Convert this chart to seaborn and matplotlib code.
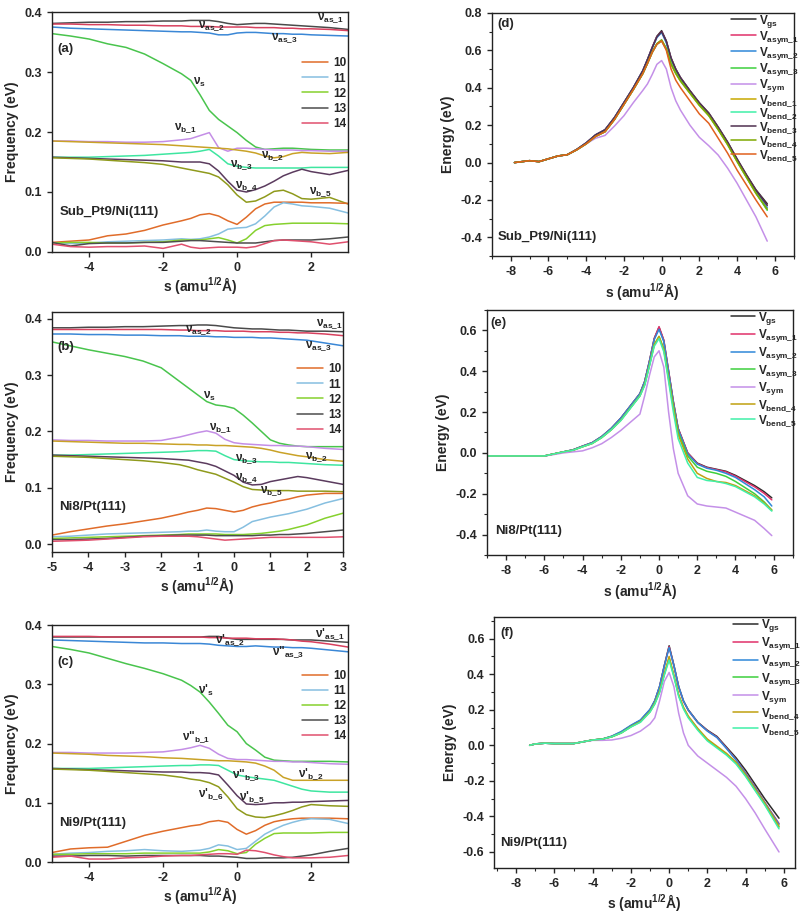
import numpy as np
import matplotlib
matplotlib.use("Agg")
import matplotlib.pyplot as plt
from matplotlib.ticker import MultipleLocator, AutoMinorLocator
import seaborn as sns

# ---- frequency panels (a)-(c): shared reaction coordinate grid ----
S_FREQ = [-5, -4.5, -4, -3.5, -3, -2.5, -2, -1.5, -1.25, -1, -0.75, -0.5, -0.25,
          0, 0.25, 0.5, 0.75, 1, 1.25, 1.5, 1.75, 2, 2.5, 3]

# (a) Sub_Pt9/Ni(111)
a_as1 = [0.381,0.382,0.383,0.383,0.384,0.384,0.385,0.385,0.386,0.386,0.386,0.384,0.381,0.379,0.380,0.381,0.381,0.380,0.379,0.378,0.377,0.376,0.374,0.371]
a_as2 = [0.380,0.380,0.379,0.379,0.378,0.378,0.377,0.377,0.376,0.376,0.376,0.375,0.375,0.375,0.375,0.374,0.374,0.374,0.373,0.373,0.372,0.372,0.371,0.369]
a_as3 = [0.375,0.373,0.372,0.371,0.370,0.369,0.368,0.367,0.367,0.366,0.365,0.362,0.362,0.365,0.366,0.366,0.365,0.364,0.364,0.363,0.363,0.362,0.361,0.360]
a_s   = [0.364,0.360,0.355,0.347,0.341,0.330,0.314,0.297,0.286,0.262,0.236,0.221,0.210,0.199,0.186,0.175,0.171,0.172,0.173,0.173,0.172,0.171,0.170,0.170]
a_b1  = [0.185,0.185,0.184,0.184,0.183,0.183,0.184,0.187,0.189,0.194,0.199,0.174,0.168,0.173,0.173,0.172,0.171,0.170,0.170,0.170,0.169,0.169,0.168,0.168]
a_b2  = [0.185,0.184,0.183,0.182,0.181,0.180,0.179,0.177,0.176,0.175,0.174,0.173,0.172,0.170,0.168,0.165,0.160,0.157,0.159,0.164,0.166,0.165,0.164,0.166]
a_b3  = [0.158,0.158,0.158,0.159,0.160,0.161,0.163,0.165,0.166,0.168,0.171,0.160,0.147,0.143,0.141,0.140,0.140,0.140,0.140,0.140,0.140,0.141,0.141,0.141]
a_b4  = [0.158,0.157,0.156,0.155,0.154,0.153,0.152,0.150,0.150,0.150,0.147,0.135,0.118,0.103,0.100,0.104,0.110,0.118,0.127,0.133,0.138,0.134,0.129,0.136]
a_b5  = [0.157,0.156,0.155,0.153,0.151,0.149,0.146,0.140,0.137,0.134,0.131,0.125,0.112,0.095,0.083,0.085,0.092,0.101,0.103,0.097,0.089,0.088,0.091,0.080]
a_10  = [0.016,0.018,0.020,0.027,0.030,0.036,0.045,0.052,0.056,0.062,0.064,0.060,0.052,0.046,0.058,0.072,0.080,0.083,0.083,0.083,0.083,0.082,0.082,0.081]
a_11  = [0.014,0.014,0.015,0.017,0.018,0.019,0.020,0.022,0.021,0.022,0.025,0.030,0.038,0.040,0.041,0.047,0.060,0.075,0.082,0.080,0.077,0.076,0.073,0.065]
a_12  = [0.015,0.016,0.016,0.015,0.015,0.016,0.017,0.020,0.020,0.020,0.022,0.024,0.020,0.015,0.022,0.036,0.044,0.046,0.047,0.048,0.048,0.048,0.048,0.047]
a_13  = [0.016,0.010,0.014,0.015,0.015,0.016,0.016,0.018,0.019,0.019,0.018,0.017,0.016,0.015,0.015,0.015,0.017,0.019,0.020,0.020,0.020,0.020,0.022,0.025]
a_14  = [0.013,0.009,0.008,0.009,0.009,0.010,0.006,0.013,0.008,0.006,0.007,0.008,0.008,0.008,0.007,0.009,0.014,0.019,0.020,0.019,0.018,0.017,0.013,0.017]

# (b) Ni8/Pt(111)
b_as1 = [0.384,0.384,0.385,0.385,0.386,0.386,0.387,0.388,0.388,0.389,0.389,0.388,0.386,0.384,0.383,0.382,0.382,0.381,0.380,0.380,0.379,0.378,0.378,0.377]
b_as2 = [0.381,0.381,0.381,0.381,0.381,0.381,0.381,0.380,0.380,0.379,0.379,0.379,0.378,0.378,0.378,0.377,0.377,0.377,0.376,0.376,0.375,0.375,0.373,0.370]
b_as3 = [0.373,0.373,0.372,0.372,0.371,0.371,0.370,0.370,0.369,0.369,0.369,0.368,0.368,0.367,0.367,0.367,0.366,0.366,0.365,0.364,0.363,0.362,0.357,0.352]
b_s   = [0.359,0.352,0.345,0.339,0.333,0.325,0.313,0.289,0.277,0.265,0.253,0.247,0.245,0.241,0.229,0.215,0.200,0.185,0.179,0.176,0.174,0.173,0.173,0.173]
b_b1  = [0.185,0.184,0.184,0.183,0.183,0.183,0.184,0.190,0.194,0.198,0.201,0.197,0.186,0.180,0.178,0.177,0.176,0.175,0.175,0.174,0.174,0.173,0.170,0.168]
b_b2  = [0.183,0.182,0.181,0.180,0.179,0.179,0.178,0.177,0.177,0.176,0.176,0.175,0.175,0.174,0.173,0.172,0.170,0.167,0.163,0.160,0.157,0.155,0.150,0.147]
b_b3  = [0.158,0.158,0.159,0.160,0.161,0.162,0.163,0.164,0.165,0.166,0.166,0.165,0.157,0.150,0.148,0.147,0.146,0.146,0.145,0.145,0.144,0.143,0.141,0.140]
b_b4  = [0.158,0.157,0.156,0.155,0.154,0.153,0.152,0.150,0.149,0.146,0.143,0.138,0.130,0.122,0.110,0.105,0.106,0.111,0.114,0.117,0.120,0.118,0.112,0.106]
b_b5  = [0.156,0.155,0.154,0.152,0.150,0.148,0.145,0.141,0.137,0.132,0.128,0.124,0.117,0.110,0.102,0.097,0.096,0.095,0.095,0.095,0.094,0.094,0.094,0.093]
b_10  = [0.016,0.022,0.027,0.032,0.036,0.041,0.046,0.053,0.057,0.060,0.064,0.063,0.060,0.057,0.060,0.066,0.070,0.073,0.077,0.080,0.084,0.087,0.090,0.090]
b_11  = [0.013,0.014,0.016,0.018,0.019,0.020,0.021,0.022,0.023,0.023,0.025,0.023,0.022,0.022,0.030,0.040,0.044,0.048,0.051,0.054,0.058,0.062,0.073,0.081]
b_12  = [0.010,0.011,0.012,0.013,0.014,0.015,0.016,0.017,0.018,0.018,0.018,0.018,0.017,0.017,0.017,0.018,0.019,0.021,0.023,0.026,0.030,0.034,0.046,0.055]
b_13  = [0.008,0.008,0.009,0.010,0.012,0.014,0.015,0.016,0.016,0.016,0.016,0.015,0.015,0.015,0.015,0.015,0.016,0.016,0.017,0.017,0.018,0.019,0.022,0.025]
b_14  = [0.005,0.006,0.007,0.009,0.011,0.013,0.014,0.014,0.014,0.013,0.011,0.009,0.007,0.008,0.009,0.010,0.011,0.012,0.012,0.012,0.012,0.012,0.012,0.013]

# (c) Ni9/Pt(111)
c_as1 = [0.380,0.380,0.380,0.380,0.380,0.380,0.380,0.380,0.380,0.380,0.381,0.381,0.378,0.376,0.376,0.376,0.376,0.376,0.376,0.375,0.375,0.375,0.373,0.371]
c_as2 = [0.381,0.381,0.381,0.380,0.380,0.380,0.380,0.380,0.380,0.380,0.379,0.379,0.378,0.378,0.378,0.377,0.377,0.377,0.376,0.375,0.373,0.372,0.368,0.363]
c_as3 = [0.375,0.374,0.373,0.372,0.371,0.370,0.370,0.369,0.369,0.369,0.368,0.366,0.365,0.364,0.364,0.365,0.364,0.363,0.363,0.362,0.362,0.361,0.358,0.355]
c_s   = [0.364,0.359,0.353,0.344,0.335,0.327,0.318,0.307,0.298,0.287,0.270,0.251,0.231,0.220,0.200,0.189,0.177,0.172,0.171,0.170,0.170,0.170,0.170,0.169]
c_b1  = [0.185,0.185,0.184,0.184,0.184,0.185,0.186,0.190,0.193,0.197,0.192,0.182,0.175,0.173,0.173,0.172,0.171,0.170,0.170,0.169,0.169,0.168,0.166,0.165]
c_b2  = [0.184,0.183,0.182,0.180,0.179,0.178,0.176,0.175,0.174,0.173,0.172,0.171,0.171,0.170,0.169,0.167,0.162,0.155,0.143,0.138,0.138,0.138,0.138,0.138]
c_b3  = [0.158,0.158,0.158,0.159,0.160,0.161,0.162,0.163,0.163,0.164,0.164,0.163,0.155,0.147,0.144,0.142,0.140,0.138,0.133,0.128,0.123,0.120,0.118,0.118]
c_b4  = [0.158,0.157,0.156,0.155,0.154,0.153,0.152,0.152,0.151,0.151,0.150,0.147,0.130,0.112,0.098,0.097,0.098,0.100,0.100,0.101,0.101,0.102,0.103,0.104]
c_b5  = [0.157,0.156,0.155,0.153,0.151,0.149,0.147,0.143,0.140,0.138,0.134,0.127,0.110,0.090,0.080,0.076,0.075,0.078,0.082,0.087,0.093,0.097,0.095,0.094]
c_10  = [0.016,0.022,0.024,0.025,0.035,0.045,0.052,0.058,0.061,0.063,0.068,0.070,0.067,0.055,0.047,0.053,0.062,0.068,0.071,0.073,0.074,0.074,0.074,0.073]
c_11  = [0.013,0.015,0.016,0.018,0.019,0.021,0.019,0.018,0.019,0.020,0.023,0.029,0.027,0.021,0.023,0.035,0.047,0.055,0.062,0.067,0.071,0.073,0.072,0.065]
c_12  = [0.013,0.013,0.014,0.014,0.014,0.015,0.015,0.015,0.015,0.015,0.017,0.021,0.019,0.014,0.016,0.030,0.040,0.048,0.049,0.049,0.049,0.049,0.050,0.050]
c_13  = [0.010,0.010,0.011,0.011,0.010,0.011,0.011,0.011,0.011,0.011,0.010,0.010,0.009,0.008,0.006,0.006,0.007,0.007,0.007,0.008,0.010,0.012,0.018,0.023]
c_14  = [0.008,0.010,0.005,0.005,0.007,0.008,0.010,0.011,0.011,0.012,0.013,0.014,0.014,0.013,0.020,0.019,0.016,0.012,0.009,0.007,0.007,0.007,0.008,0.011]

# ---- energy panels ----
# (d) Sub_Pt9/Ni(111)
S_D = [-7.8,-7,-6.5,-6,-5.5,-5,-4.5,-4,-3.5,-3,-2.5,-2,-1.5,-1,-0.75,-0.5,-0.25,0,0.25,0.5,0.75,1,1.5,2,2.5,3,3.5,4,4.5,5,5.6]
d_gs    = [0.000,0.010,0.005,0.020,0.035,0.042,0.070,0.105,0.148,0.175,0.240,0.320,0.400,0.490,0.550,0.615,0.675,0.705,0.650,0.560,0.500,0.455,0.385,0.320,0.265,0.190,0.110,0.020,-0.065,-0.145,-0.220]
d_asym1 = [0.000,0.010,0.005,0.020,0.035,0.042,0.070,0.105,0.148,0.175,0.240,0.320,0.400,0.490,0.550,0.615,0.672,0.700,0.645,0.555,0.497,0.452,0.382,0.317,0.262,0.187,0.106,0.016,-0.070,-0.150,-0.230]
d_asym2 = [0.000,0.010,0.005,0.020,0.035,0.042,0.070,0.105,0.148,0.175,0.240,0.320,0.400,0.490,0.550,0.612,0.668,0.695,0.640,0.552,0.495,0.450,0.380,0.315,0.260,0.185,0.104,0.013,-0.074,-0.155,-0.240]
d_asym3 = [0.000,0.010,0.005,0.020,0.035,0.042,0.068,0.100,0.140,0.165,0.230,0.310,0.390,0.475,0.530,0.590,0.635,0.655,0.610,0.530,0.480,0.440,0.375,0.310,0.255,0.180,0.100,0.010,-0.075,-0.160,-0.255]
d_sym   = [0.000,0.010,0.005,0.020,0.035,0.042,0.068,0.100,0.130,0.145,0.195,0.250,0.320,0.385,0.420,0.470,0.525,0.545,0.500,0.400,0.330,0.280,0.200,0.135,0.090,0.040,-0.030,-0.110,-0.200,-0.290,-0.420]
d_bend1 = [0.000,0.010,0.005,0.020,0.035,0.042,0.068,0.100,0.140,0.165,0.230,0.310,0.390,0.475,0.530,0.588,0.632,0.650,0.605,0.525,0.475,0.435,0.370,0.305,0.250,0.175,0.095,0.005,-0.080,-0.165,-0.250]
d_bend2 = [0.000,0.010,0.005,0.020,0.035,0.042,0.068,0.100,0.140,0.165,0.230,0.310,0.390,0.475,0.530,0.588,0.632,0.650,0.608,0.528,0.478,0.438,0.373,0.308,0.253,0.178,0.098,0.008,-0.078,-0.162,-0.252]
d_bend3 = [0.000,0.010,0.005,0.020,0.035,0.042,0.070,0.105,0.148,0.175,0.240,0.320,0.400,0.490,0.550,0.613,0.672,0.700,0.648,0.558,0.498,0.453,0.383,0.318,0.263,0.188,0.108,0.018,-0.068,-0.148,-0.228]
d_bend4 = [0.000,0.010,0.005,0.020,0.035,0.042,0.068,0.100,0.140,0.165,0.230,0.310,0.390,0.475,0.530,0.590,0.635,0.655,0.608,0.528,0.478,0.437,0.372,0.307,0.252,0.177,0.097,0.007,-0.078,-0.163,-0.250]
d_bend5 = [0.000,0.010,0.005,0.020,0.035,0.042,0.068,0.100,0.140,0.165,0.230,0.310,0.390,0.475,0.530,0.588,0.632,0.650,0.600,0.500,0.440,0.400,0.330,0.260,0.210,0.130,0.050,-0.040,-0.120,-0.200,-0.290]

# (e) Ni8/Pt(111)
S_E = [-9,-8,-7,-6,-5.5,-5,-4.5,-4,-3.5,-3,-2.5,-2,-1.5,-1,-0.75,-0.5,-0.25,0,0.25,0.5,0.75,1,1.5,2,2.5,3,3.5,4,4.5,5,5.5,5.9]
e_gs    = [-0.015,-0.015,-0.015,-0.015,-0.005,0.005,0.015,0.033,0.050,0.080,0.120,0.170,0.230,0.290,0.350,0.450,0.560,0.615,0.550,0.400,0.250,0.120,0.000,-0.050,-0.070,-0.080,-0.090,-0.110,-0.135,-0.160,-0.190,-0.220]
e_asym1 = [-0.015,-0.015,-0.015,-0.015,-0.005,0.005,0.015,0.033,0.050,0.080,0.120,0.170,0.230,0.290,0.350,0.450,0.560,0.618,0.552,0.402,0.252,0.120,0.000,-0.052,-0.072,-0.082,-0.093,-0.114,-0.140,-0.166,-0.198,-0.230]
e_asym2 = [-0.015,-0.015,-0.015,-0.015,-0.005,0.005,0.015,0.033,0.050,0.080,0.120,0.170,0.230,0.290,0.350,0.448,0.555,0.605,0.545,0.395,0.245,0.115,-0.005,-0.055,-0.075,-0.085,-0.100,-0.120,-0.150,-0.180,-0.215,-0.260]
e_asym3 = [-0.015,-0.015,-0.015,-0.015,-0.005,0.005,0.013,0.030,0.046,0.075,0.113,0.160,0.220,0.280,0.335,0.430,0.530,0.570,0.510,0.370,0.230,0.100,-0.015,-0.070,-0.090,-0.100,-0.115,-0.140,-0.170,-0.200,-0.240,-0.280]
e_sym   = [-0.015,-0.015,-0.015,-0.015,-0.008,0.000,0.005,0.010,0.025,0.045,0.075,0.110,0.150,0.190,0.280,0.380,0.470,0.500,0.420,0.200,0.020,-0.100,-0.210,-0.250,-0.260,-0.265,-0.270,-0.290,-0.310,-0.330,-0.370,-0.405]
e_bend4 = [-0.015,-0.015,-0.015,-0.015,-0.005,0.005,0.013,0.030,0.046,0.075,0.113,0.160,0.220,0.280,0.335,0.430,0.530,0.570,0.505,0.360,0.220,0.090,-0.030,-0.100,-0.125,-0.140,-0.145,-0.160,-0.185,-0.210,-0.245,-0.280]
e_bend5 = [-0.015,-0.015,-0.015,-0.015,-0.005,0.005,0.013,0.030,0.046,0.075,0.113,0.158,0.218,0.278,0.330,0.425,0.522,0.560,0.495,0.350,0.200,0.070,-0.050,-0.120,-0.135,-0.140,-0.150,-0.165,-0.190,-0.215,-0.250,-0.285]

# (f) Ni9/Pt(111)
S_F = [-7.3,-7,-6.5,-6,-5.5,-5,-4.5,-4,-3.5,-3,-2.5,-2,-1.5,-1,-0.75,-0.5,-0.25,0,0.25,0.5,0.75,1,1.5,2,2.5,3,3.5,4,4.5,5,5.75]
f_gs    = [0.000,0.008,0.012,0.010,0.010,0.010,0.020,0.030,0.035,0.050,0.075,0.110,0.140,0.200,0.250,0.330,0.450,0.560,0.450,0.330,0.250,0.200,0.130,0.085,0.050,-0.010,-0.070,-0.140,-0.220,-0.300,-0.410]
f_asym1 = [0.000,0.008,0.012,0.010,0.010,0.010,0.020,0.030,0.035,0.050,0.075,0.110,0.140,0.200,0.250,0.330,0.448,0.555,0.448,0.328,0.248,0.198,0.128,0.082,0.046,-0.015,-0.080,-0.155,-0.235,-0.320,-0.440]
f_asym2 = [0.000,0.008,0.012,0.010,0.010,0.010,0.020,0.030,0.035,0.052,0.078,0.113,0.143,0.203,0.252,0.332,0.448,0.550,0.448,0.330,0.250,0.198,0.128,0.080,0.044,-0.018,-0.082,-0.158,-0.238,-0.322,-0.445]
f_asym3 = [0.000,0.008,0.012,0.010,0.010,0.010,0.020,0.030,0.035,0.048,0.070,0.105,0.133,0.190,0.235,0.300,0.400,0.490,0.390,0.280,0.210,0.160,0.090,0.030,-0.010,-0.050,-0.100,-0.170,-0.250,-0.330,-0.460]
f_sym   = [0.000,0.008,0.012,0.010,0.010,0.010,0.020,0.028,0.028,0.030,0.040,0.055,0.080,0.120,0.155,0.250,0.360,0.410,0.330,0.180,0.070,0.000,-0.060,-0.100,-0.140,-0.180,-0.230,-0.300,-0.380,-0.470,-0.600]
f_bend4 = [0.000,0.008,0.012,0.010,0.010,0.010,0.020,0.030,0.035,0.048,0.070,0.105,0.133,0.190,0.238,0.305,0.405,0.500,0.395,0.285,0.215,0.165,0.095,0.035,-0.005,-0.045,-0.095,-0.165,-0.245,-0.325,-0.455]
f_bend5 = [0.000,0.008,0.012,0.010,0.010,0.010,0.020,0.030,0.035,0.048,0.070,0.103,0.130,0.187,0.232,0.297,0.395,0.480,0.385,0.275,0.205,0.155,0.085,0.025,-0.015,-0.055,-0.105,-0.175,-0.255,-0.335,-0.470]

# colours
C_AS1, C_AS2, C_AS3 = "#4a4a4a", "#d8405e", "#3a87d6"
C_S, C_B1, C_B2, C_B3 = "#49c44d", "#c48ee6", "#c9a227", "#3ee6a0"
C_B4, C_B5 = "#5b3b5e", "#8f9a1c"
C_10, C_11, C_12, C_13, C_14 = "#e06c2a", "#86bfe0", "#86d12e", "#4d4d4d", "#e0506e"

E_GS, E_A1, E_A2, E_A3 = "#2b2b2b", "#e0306a", "#2f88d8", "#3dcf3d"
E_SYM, E_B1, E_B2, E_B3 = "#c490e8", "#c8a800", "#40f0a8", "#503050"
E_B4, E_B5 = "#7ea800", "#e0601e"

sns.set_style("ticks")
plt.rcParams["font.family"] = ["Liberation Sans", "DejaVu Sans"]
plt.rcParams["font.weight"] = "bold"
plt.rcParams["axes.labelweight"] = "bold"
plt.rcParams["axes.unicode_minus"] = False
plt.rcParams["mathtext.fontset"] = "custom"
plt.rcParams["mathtext.rm"] = "Liberation Sans:bold"
plt.rcParams["mathtext.it"] = "Liberation Sans:bold"
plt.rcParams["mathtext.bf"] = "Liberation Sans:bold"
plt.rcParams["xtick.direction"] = "out"
plt.rcParams["ytick.direction"] = "out"

fig = plt.figure(figsize=(8.09, 9.18), dpi=100)

XLAB = "s (amu$^{1/2}$Å)"
TICK_FS = 9
LAB_FS = 10
ANN_FS = 8.5


def style_axes(ax):
    for sp in ax.spines.values():
        sp.set_linewidth(1.0)
        sp.set_color("#222222")
    ax.tick_params(labelsize=TICK_FS, width=1.0, length=3.5)
    ax.tick_params(which="minor", width=0.8, length=2)
    for lab in ax.get_xticklabels() + ax.get_yticklabels():
        lab.set_fontweight("bold")


def freq_panel(rect, curves, xmaj, ylim, tag, system, notes, legy):
    ax = fig.add_axes(rect)
    for vals, col, lab in curves:
        sns.lineplot(x=S_FREQ, y=vals, ax=ax, color=col, lw=1.1, label=lab)
    ax.set_xlim(-5, 3)
    ax.set_ylim(*ylim)
    ax.xaxis.set_major_locator(MultipleLocator(xmaj))
    ax.yaxis.set_major_locator(MultipleLocator(0.1))
    ax.yaxis.set_major_formatter(plt.FormatStrFormatter("%.1f"))
    ax.set_xlabel(XLAB, fontsize=LAB_FS, fontweight="bold", labelpad=1)
    ax.set_ylabel("Frequency (eV)", fontsize=LAB_FS, fontweight="bold")
    ax.text(-4.85, ylim[1] - 0.062, tag, fontsize=9.5, fontweight="bold", va="center")
    ax.text(-4.8, 0.066, system, fontsize=9.5, fontweight="bold", va="center")
    for x, y, t in notes:
        ax.text(x, y, t, fontsize=ANN_FS, fontweight="bold", va="center")
    h, l = ax.get_legend_handles_labels()
    ax.legend(h, l, loc="upper right", bbox_to_anchor=(1.03, legy), frameon=False,
              handlelength=2.2, handletextpad=0.4, labelspacing=0.26,
              prop={"weight": "bold", "size": 8.5})
    style_axes(ax)
    return ax


def nu(p, sub):
    return "ν" + p + "$_{" + sub.replace("_", r"\_") + "}$"


def freq_curves(as1, as2, as3, s, b1, b2, b3, b4, b5, v10, v11, v12, v13, v14):
    return [(as1, C_AS1, None), (as2, C_AS2, None), (as3, C_AS3, None),
            (s, C_S, None), (b1, C_B1, None), (b2, C_B2, None), (b3, C_B3, None),
            (b4, C_B4, None), (b5, C_B5, None),
            (v10, C_10, "10"), (v11, C_11, "11"), (v12, C_12, "12"),
            (v13, C_13, "13"), (v14, C_14, "14")]


# (a)
freq_panel([0.0643, 0.7255, 0.366, 0.2614],
           freq_curves(a_as1, a_as2, a_as3, a_s, a_b1, a_b2, a_b3, a_b4, a_b5,
                       a_10, a_11, a_12, a_13, a_14),
           2, (0, 0.4), "(a)", "Sub_Pt9/Ni(111)",
           [(2.15, 0.390, nu("", "as_1")), (-1.05, 0.377, nu("", "as_2")),
            (0.93, 0.357, nu("", "as_3")), (-1.2, 0.283, nu("", "s")),
            (-1.7, 0.207, nu("", "b_1")), (0.65, 0.161, nu("", "b_2")),
            (-0.2, 0.146, nu("", "b_3")), (-0.05, 0.110, nu("", "b_4")),
            (1.95, 0.101, nu("", "b_5"))], 0.855)

# (b)
freq_panel([0.0643, 0.3987, 0.360, 0.2614],
           freq_curves(b_as1, b_as2, b_as3, b_s, b_b1, b_b2, b_b3, b_b4, b_b5,
                       b_10, b_11, b_12, b_13, b_14),
           1, (-0.014, 0.412), "(b)", "Ni8/Pt(111)",
           [(2.25, 0.391, nu("", "as_1")), (-1.35, 0.381, nu("", "as_2")),
            (1.95, 0.353, nu("", "as_3")), (-0.85, 0.262, nu("", "s")),
            (-0.7, 0.206, nu("", "b_1")), (1.95, 0.155, nu("", "b_2")),
            (0.02, 0.151, nu("", "b_3")), (0.02, 0.118, nu("", "b_4")),
            (0.7, 0.095, nu("", "b_5"))], 0.83)

# (c)
freq_panel([0.0643, 0.061, 0.366, 0.258],
           freq_curves(c_as1, c_as2, c_as3, c_s, c_b1, c_b2, c_b3, c_b4, c_b5,
                       c_10, c_11, c_12, c_13, c_14),
           2, (0, 0.4), "(c)", "Ni9/Pt(111)",
           [(2.1, 0.386, nu("'", "as_1")), (-0.6, 0.376, nu("'", "as_2")),
            (0.95, 0.355, nu('"', "as_3")), (-1.05, 0.290, nu("'", "s")),
            (-1.5, 0.211, nu('"', "b_1")), (1.65, 0.149, nu("'", "b_2")),
            (-0.15, 0.148, nu('"', "b_3")), (-1.05, 0.115, nu("'", "b_6")),
            (0.05, 0.110, nu("'", "b_5"))], 0.855)


def energy_panel(rect, xs, curves, xlim, ylim, ymaj, tag_xy, tag, sys_xy, system, legsp):
    ax = fig.add_axes(rect)
    for vals, col, lab in curves:
        sns.lineplot(x=xs, y=vals, ax=ax, color=col, lw=1.1, label=lab)
    ax.set_xlim(*xlim)
    ax.set_ylim(*ylim)
    ax.xaxis.set_major_locator(MultipleLocator(2))
    ax.xaxis.set_minor_locator(AutoMinorLocator(2))
    ax.yaxis.set_major_locator(MultipleLocator(ymaj))
    ax.yaxis.set_minor_locator(AutoMinorLocator(2))
    ax.yaxis.set_major_formatter(plt.FormatStrFormatter("%.1f"))
    ax.set_xlabel(XLAB, fontsize=LAB_FS, fontweight="bold", labelpad=2)
    ax.set_ylabel("Energy (eV)", fontsize=LAB_FS, fontweight="bold")
    ax.text(tag_xy[0], tag_xy[1], tag, fontsize=9.5, fontweight="bold", va="center")
    ax.text(sys_xy[0], sys_xy[1], system, fontsize=9.5, fontweight="bold", va="center")
    h, l = ax.get_legend_handles_labels()
    ax.legend(h, l, loc="upper right", bbox_to_anchor=(1.045, 1.035), frameon=False,
              handlelength=2.1, handletextpad=0.25, labelspacing=legsp,
              borderaxespad=0.3, prop={"weight": "bold", "size": 8.5})
    style_axes(ax)
    return ax


def V(sub):
    return "V$_{" + sub.replace("_", r"\_") + "}$"


energy_panel([0.608, 0.721, 0.373, 0.265], S_D,
             [(d_gs, E_GS, V("gs")), (d_asym1, E_A1, V("asym_1")),
              (d_asym2, E_A2, V("asym_2")), (d_asym3, E_A3, V("asym_3")),
              (d_sym, E_SYM, V("sym")), (d_bend1, E_B1, V("bend_1")),
              (d_bend2, E_B2, V("bend_2")), (d_bend3, E_B3, V("bend_3")),
              (d_bend4, E_B4, V("bend_4")), (d_bend5, E_B5, V("bend_5"))],
             (-9, 7), (-0.5, 0.8), 0.2, (-8.7, 0.74), "(d)",
             (-8.7, -0.40), "Sub_Pt9/Ni(111)", -0.08)

energy_panel([0.602, 0.3954, 0.378, 0.267], S_E,
             [(e_gs, E_GS, V("gs")), (e_asym1, E_A1, V("asym_1")),
              (e_asym2, E_A2, V("asym_2")), (e_asym3, E_A3, V("asym_3")),
              (e_sym, E_SYM, V("sym")), (e_bend4, "#c0a010", V("bend_4")),
              (e_bend5, E_B2, V("bend_5"))],
             (-9, 7), (-0.5, 0.7), 0.2, (-8.8, 0.635), "(e)",
             (-8.6, -0.38), "Ni8/Pt(111)", 0.06)

energy_panel([0.611, 0.0545, 0.372, 0.273], S_F,
             [(f_gs, E_GS, V("gs")), (f_asym1, E_A1, V("asym_1")),
              (f_asym2, E_A2, V("asym_2")), (f_asym3, E_A3, V("asym_3")),
              (f_sym, E_SYM, V("sym")), (f_bend4, "#c0a010", V("bend_4")),
              (f_bend5, E_B2, V("bend_5"))],
             (-9.15, 6.6), (-0.69, 0.72), 0.2, (-8.85, 0.63), "(f)",
             (-8.85, -0.55), "Ni9/Pt(111)", 0.08)

fig.savefig("out.png", dpi=100)
